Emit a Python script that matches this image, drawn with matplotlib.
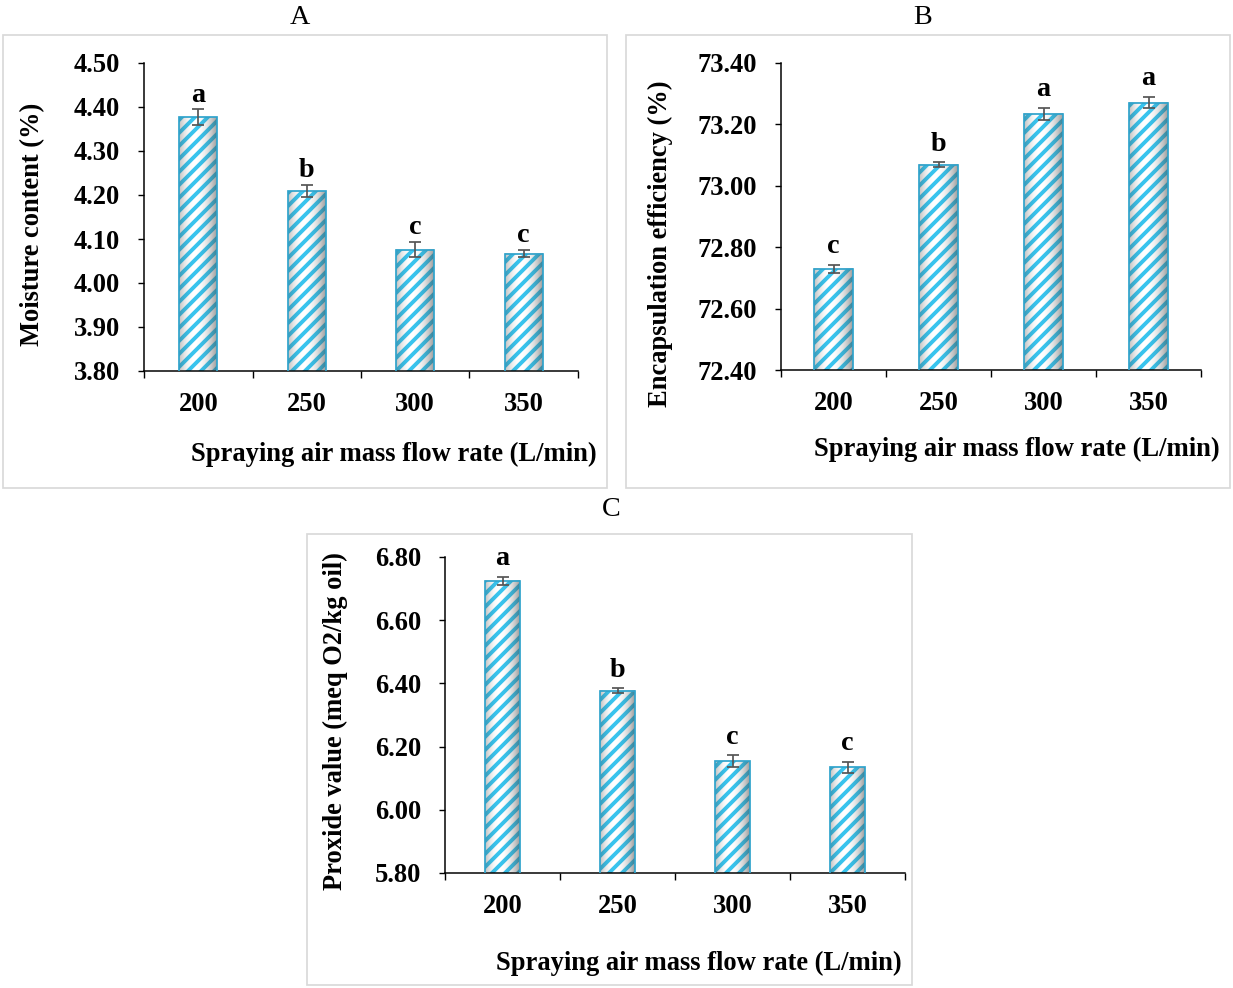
import matplotlib
matplotlib.use('Agg')
import matplotlib.pyplot as plt
import numpy as np
from matplotlib.patches import Rectangle

# data
flow_rates = ['200', '250', '300', '350']

moisture = [4.377, 4.209, 4.076, 4.067]
moisture_err = [0.018, 0.014, 0.018, 0.009]
moisture_letters = ['a', 'b', 'c', 'c']

efficiency = [72.729, 73.068, 73.234, 73.271]
efficiency_err = [0.013, 0.008, 0.020, 0.019]
efficiency_letters = ['c', 'b', 'a', 'a']

peroxide = [6.725, 6.377, 6.154, 6.134]
peroxide_err = [0.013, 0.007, 0.018, 0.016]
peroxide_letters = ['a', 'b', 'c', 'c']

W, H, DPI = 1233, 988, 78
plt.rcParams['font.family'] = ['Liberation Serif', 'DejaVu Serif']
plt.rcParams['hatch.linewidth'] = 3.6

STRIPE = '#38c4ee'
EDGE = '#2fa3cc'
FS = 24.5

fig = plt.figure(figsize=(W / DPI, H / DPI), dpi=DPI)


def px_axes(left, top, right, bottom):
    return fig.add_axes([left / W, 1 - bottom / H, (right - left) / W, (bottom - top) / H])


def frame(left, top, right, bottom):
    fig.add_artist(Rectangle((left / W, 1 - bottom / H), (right - left) / W, (bottom - top) / H,
                             transform=fig.transFigure, fill=False, edgecolor='#d9d9d9', lw=1.6))


# light cylinder shading across a bar (darker on the right edge)
g = np.linspace(0, 1, 64)
shade = np.zeros((1, 64, 4))
shade[0, :, :3] = 0.3
shade[0, :, 3] = np.where(g < 0.4, 0.35 * ((0.4 - g) / 0.4) ** 2, 0.55 * ((g - 0.4) / 0.6) ** 2.2)


def panel(ax, values, errs, letters, ylim, step, width, gap, ylabel, ylab_xy, xlab_xy, title, title_xy):
    x = np.arange(len(flow_rates))
    bars = ax.bar(x, values, width, color='white', edgecolor=STRIPE, hatch='//', linewidth=0, zorder=2)
    for p in bars:
        x0, w, top = p.get_x(), p.get_width(), p.get_height()
        ax.imshow(shade, extent=(x0, x0 + w, ylim[0], top), aspect='auto', zorder=3, interpolation='bilinear')
    ax.bar(x, values, width, fill=False, edgecolor=EDGE, linewidth=1.6, zorder=4)
    ax.errorbar(x, values, yerr=errs, fmt='none', ecolor='#555555', elinewidth=1.6,
                capsize=5.5, capthick=1.6, zorder=5)
    for xi, v, e, lab in zip(x, values, errs, letters):
        ax.annotate(lab, (xi, v + e), xytext=(0, gap), textcoords='offset points',
                    ha='center', va='baseline', fontsize=26, fontweight='bold')

    ax.set_xlim(-0.5, len(flow_rates) - 0.5)
    ax.set_ylim(*ylim)
    ax.set_yticks(np.arange(ylim[0], ylim[1] + step / 2, step))
    ax.set_yticklabels([f'{t:.2f}' for t in ax.get_yticks()], fontsize=FS, fontweight='bold')
    ax.set_xticks(x)
    ax.set_xticklabels(flow_rates, fontsize=FS, fontweight='bold')
    ax.set_xticks(np.arange(-0.5, len(flow_rates)), minor=True)
    ax.tick_params(axis='x', which='major', length=0, pad=19)
    ax.tick_params(axis='x', which='minor', length=6.5, width=1.3, direction='out')
    ax.tick_params(axis='y', length=6, width=1.3, direction='out', pad=16)
    for s in ['top', 'right']:
        ax.spines[s].set_visible(False)
    for s in ['left', 'bottom']:
        ax.spines[s].set_linewidth(1.4)

    fig.text(ylab_xy[0] / W, 1 - ylab_xy[1] / H, ylabel, rotation=90, ha='center', va='center',
             fontsize=FS, fontweight='bold')
    fig.text(xlab_xy[0] / W, 1 - xlab_xy[1] / H, 'Spraying air mass flow rate (L/min)',
             ha='center', va='center', fontsize=FS, fontweight='bold')
    fig.text(title_xy[0] / W, 1 - title_xy[1] / H, title, ha='center', va='center', fontsize=26)


frame(3, 35, 607, 488)
frame(626, 35, 1230, 488)
frame(307, 534, 912, 985)

axA = px_axes(144, 63, 578, 371)
panel(axA, moisture, moisture_err, moisture_letters, (3.80, 4.50), 0.10, 0.35, 7,
      'Moisture content (%)', (33, 224), (394, 454), 'A', (300, 17))

axB = px_axes(781, 63, 1201, 370)
panel(axB, efficiency, efficiency_err, efficiency_letters, (72.40, 73.40), 0.20, 0.37, 11,
      'Encapsulation efficiency (%)', (660, 244), (1017, 449), 'B', (923, 17))

axC = px_axes(445, 557, 905, 873)
panel(axC, peroxide, peroxide_err, peroxide_letters, (5.80, 6.80), 0.20, 0.30, 11,
      'Proxide value (meq O2/kg oil)', (335, 721), (699, 963), 'C', (611, 510))

fig.savefig('out.png', dpi=DPI)
